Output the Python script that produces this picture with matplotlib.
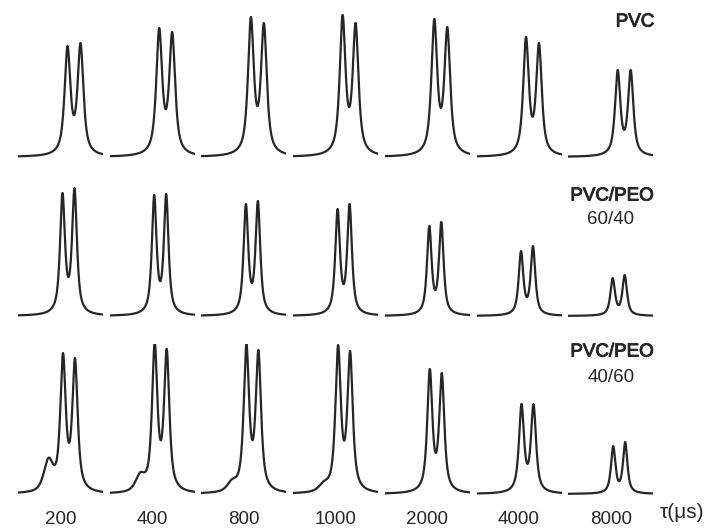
import numpy as np
import matplotlib
matplotlib.use("Agg")
import matplotlib.pyplot as plt
import matplotlib.patheffects as pe

plt.rcParams["font.family"] = ["Liberation Sans", "DejaVu Sans"]

# ── data ──────────────────────────────────────────────────────────────
taus = ["200", "400", "800", "1000", "2000", "4000", "8000"]
samples = ["PVC", "PVC/PEO", "PVC/PEO"]
ratios = ["", "60/40", "40/60"]

# observed heights (arb. units) of left / right line, and of the dip between
pvc_left = [111, 129, 140, 142, 138, 120, 87]
pvc_right = [114, 125, 134, 134, 130, 114, 87]
pvc_dip = [42, 48, 51, 50, 49, 40, 27]

b64_left = [123, 121, 112, 107, 90, 65, 38]
b64_right = [128, 122, 115, 112, 94, 70, 41]
b64_dip = [39, 35, 33, 32, 26, 19, 11]

b46_left = [141, 152, 150, 149, 125, 90, 48]
b46_right = [136, 145, 144, 143, 121, 90, 52]
b46_dip = [51, 54, 54, 53, 41, 30, 13]
b46_shoulder = [30, 15, 8, 6, 0, 0, 0]     # broad low-field shoulder
no_shoulder = [0, 0, 0, 0, 0, 0, 0]

# line positions (shift units, panel centre = 0)
pos_pvc = (7.0, 20.0)
pos_b64 = (2.0, 14.0)
pos_b46 = (2.5, 14.5)
pos_shoulder = -12.0

rows = [
    (pvc_left, pvc_right, pvc_dip, no_shoulder, pos_pvc),
    (b64_left, b64_right, b64_dip, no_shoulder, pos_b64),
    (b46_left, b46_right, b46_dip, b46_shoulder, pos_b46),
]

# ── layout (pixels) ──────────────────────────────────────────────────
W, H = 710, 529
baselines = [157, 316, 494]
col_left0, col_step, col_w = 18, 91.7, 85
C_LINE = "#262626"
x = np.linspace(-42, 42, 900)


def shape(u, w, eta=0.8):
    """pseudo-Voigt, unit height, FWHM w."""
    lor = 1.0 / (1.0 + (2 * u / w) ** 2)
    gau = np.exp(-4 * np.log(2) * (u / w) ** 2)
    return eta * lor + (1 - eta) * gau


def doublet(h1, h2, hd, hs, p1, p2):
    """two lines + optional shoulder; width chosen so the dip matches."""
    sh = lambda u: hs * shape(u - pos_shoulder, 11.0, eta=0.6)
    best = None
    for w in np.linspace(3.0, 14.0, 221):
        s = shape(p2 - p1, w)
        a = np.linalg.solve([[1, s], [s, 1]], [h1 - sh(p1), h2 - sh(p2)])
        y = a[0] * shape(x - p1, w) + a[1] * shape(x - p2, w) + sh(x)
        m = (x > p1) & (x < p2)
        err = abs(y[m].min() - hd)
        if best is None or err < best[0]:
            best = (err, y)
    return best[1]


fig = plt.figure(figsize=(W / 100, H / 100), dpi=100)
for r, (lf, rt, dp, sh, (p1, p2)) in enumerate(rows):
    for c in range(len(taus)):
        left = col_left0 + c * col_step
        bottom = baselines[r] + 5
        ax = fig.add_axes([left / W, 1 - bottom / H, col_w / W, 155 / H])
        ax.plot(x, doublet(lf[c], rt[c], dp[c], sh[c], p1, p2),
                color=C_LINE, lw=1.6, solid_joinstyle="round")
        ax.set_xlim(-42.5, 42.5)
        ax.set_ylim(-5, 150)
        ax.set_axis_off()

# τ labels under the bottom row
for c, t in enumerate(taus):
    cx = col_left0 + c * col_step + col_w / 2
    fig.text(cx / W, 1 - 519 / H, t, ha="center", va="center",
             fontsize=13.5, color=C_LINE)
fig.text(682 / W, 1 - 512 / H, "τ(μs)", ha="center", va="center",
         fontsize=15, color=C_LINE)

# sample labels (medium weight look)
med = [pe.withStroke(linewidth=0.7, foreground=C_LINE)]
fig.text(635 / W, 1 - 22 / H, samples[0], ha="center", va="center",
         fontsize=13.5, color=C_LINE, path_effects=med)
for r, (yl, yr) in zip((1, 2), ((196, 220), (352, 377))):
    fig.text(612 / W, 1 - yl / H, samples[r], ha="center", va="center",
             fontsize=13.5, color=C_LINE, path_effects=med)
    fig.text(611 / W, 1 - yr / H, ratios[r], ha="center", va="center",
             fontsize=13.5, color=C_LINE)

fig.savefig("out.png", dpi=100, facecolor="white")
